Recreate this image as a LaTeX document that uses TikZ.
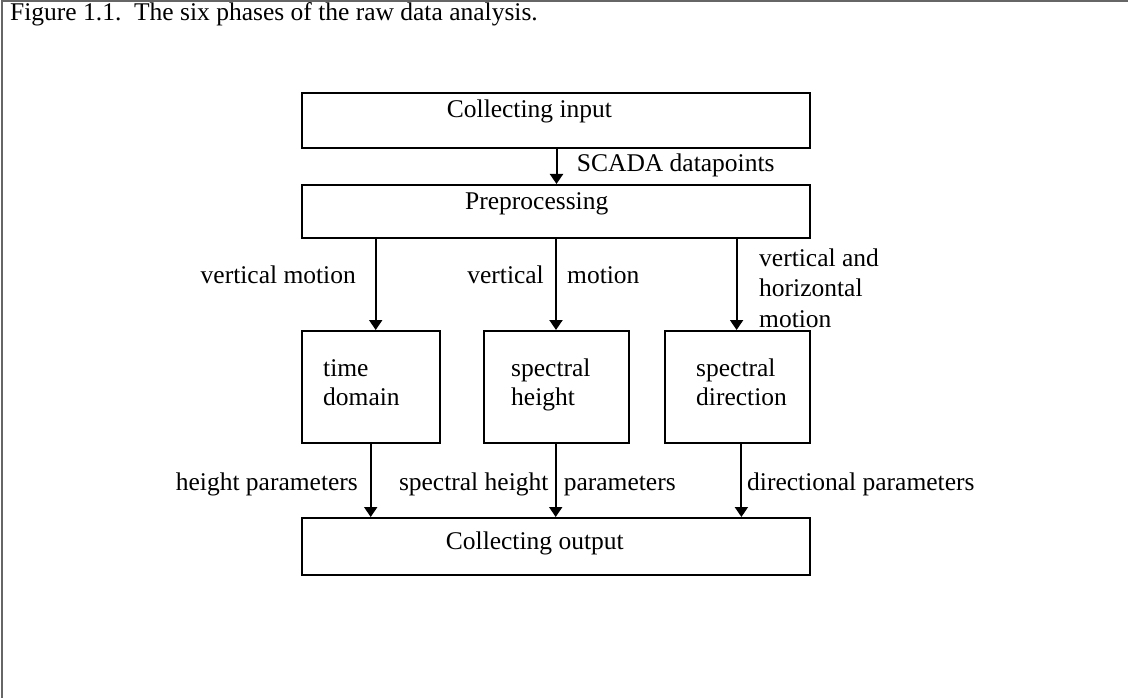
\documentclass[tikz,border=0pt]{standalone}
\usepackage{fontspec}
\setmainfont{Liberation Serif}
\usetikzlibrary{arrows.meta}
\begin{document}
\begin{tikzpicture}[x=1pt,y=-1pt,
  box/.style={draw=black, line width=2pt, rectangle, inner sep=0pt, anchor=north west},
  arr/.style={line width=2pt, -{Triangle[width=13pt,length=10pt]}},
  txt/.style={inner sep=0pt, font=\fontsize{25.5}{29}\selectfont},
  frm/.style={draw=black!60, line width=2pt}]
\useasboundingbox (0,0) rectangle (1128,698);
\fill[white] (0,0) rectangle (1128,698);
\draw[frm] (2,698) -- (2,1) -- (1128,1);

% boxes
\node[box, minimum width=508pt, minimum height=55pt] (cin) at (301,92) {};
\node[box, minimum width=508pt, minimum height=53pt] (pre) at (301,184) {};
\node[box, minimum width=138pt, minimum height=112pt] (td) at (301,330) {};
\node[box, minimum width=145pt, minimum height=112pt] (sh) at (483,330) {};
\node[box, minimum width=145pt, minimum height=112pt] (sd) at (664,330) {};
\node[box, minimum width=508pt, minimum height=57pt] (cout) at (301,517) {};

% connectors
\draw[arr] (556.5,0 |- cin.south) -- (556.5,0 |- pre.north);
\draw[arr] (375.7,0 |- pre.south) -- (375.7,0 |- td.north);
\draw[arr] (556,0 |- pre.south) -- (556,0 |- sh.north);
\draw[arr] (736.6,0 |- pre.south) -- (736.6,0 |- sd.north);
\draw[arr] (370.7,0 |- td.south) -- (370.7,0 |- cout.north);
\draw[arr] (555.7,0 |- sh.south) -- (555.7,0 |- cout.north);
\draw[arr] (741.4,0 |- sd.south) -- (741.4,0 |- cout.north);

% texts
\node[txt, anchor=base west] (title) at (10,21) {Figure 1.1.\ \ The six phases of the raw data analysis.};
\node[txt, anchor=base west] (tcin) at (446.7,118) {Collecting input};
\node[txt, anchor=base west] (tscada) at (576.7,171.7) {SCADA datapoints};
\node[txt, anchor=base west] (tpre) at (465,210) {Preprocessing};
\node[txt, anchor=base east] (l1) at (356,283) {vertical motion};
\node[txt, anchor=base east] (l2a) at (544,283) {vertical};
\node[txt, anchor=base west] (l2b) at (567,283) {motion};
\node[txt, anchor=base west, align=left] (l3) at (759,327) {vertical and\\[1.5pt]horizontal\\[1.5pt]motion};
\node[txt, anchor=base west, align=left] (ttd) at (323,405) {time\\domain};
\node[txt, anchor=base west, align=left] (tsh) at (511,405) {spectral\\height};
\node[txt, anchor=base west, align=left] (tsd) at (696,405) {spectral\\direction};
\node[txt, anchor=base east] (b1) at (358,490) {height parameters};
\node[txt, anchor=base east] (b2a) at (548.6,490) {spectral height};
\node[txt, anchor=base west] (b2b) at (563.6,490) {parameters};
\node[txt, anchor=base west] (b3) at (747,490) {directional parameters};
\node[txt, anchor=base west] (tcout) at (445.7,549) {Collecting output};
\end{tikzpicture}
\end{document}
